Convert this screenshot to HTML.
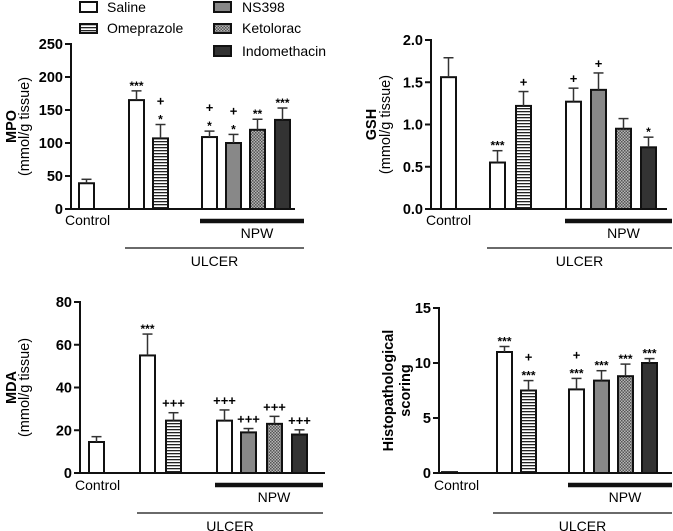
<!DOCTYPE html>
<html><head><meta charset="utf-8"><style>
html,body{margin:0;padding:0;background:#fff}
svg{display:block;font-family:"Liberation Sans",Arial,sans-serif}
</style></head><body>
<svg id="fig" width="673" height="531" viewBox="0 0 673 531" xmlns="http://www.w3.org/2000/svg">
<defs>
<pattern id="hatch" width="4" height="3" patternUnits="userSpaceOnUse"><rect width="4" height="3" fill="#fff"/><rect y="0" width="4" height="1.3" fill="#222"/></pattern>
<pattern id="dots" width="3" height="3" patternUnits="userSpaceOnUse"><rect width="3" height="3" fill="#b5b5b5"/><rect width="1.5" height="1.5" fill="#555"/><rect x="1.5" y="1.5" width="1.5" height="1.5" fill="#555"/></pattern>
</defs>
<g id="legend">
<g><rect x="80" y="2" width="17" height="10" fill="#fff" stroke="#111" stroke-width="2"/><text x="107" y="12" font-size="14">Saline</text></g>
<g><rect x="80" y="24" width="17" height="9" fill="url(#hatch)" stroke="#111" stroke-width="2"/><text x="107" y="33" font-size="14">Omeprazole</text></g>
<g><rect x="214" y="2" width="17" height="10" fill="#888" stroke="#111" stroke-width="2"/><text x="242" y="12" font-size="14">NS398</text></g>
<g><rect x="214" y="24" width="17" height="9" fill="url(#dots)" stroke="#111" stroke-width="2"/><text x="242" y="33" font-size="14">Ketolorac</text></g>
<g><rect x="214" y="46" width="17" height="10" fill="#333" stroke="#111" stroke-width="2"/><text x="242" y="56" font-size="14">Indomethacin</text></g>
</g>
</svg>
<script>
// Data (per panel)
const groups = ['Control','Saline','Omeprazole','NPW','NS398','Ketolorac','Indomethacin'];
const mpoValues = [39,165,107,109,100,120,135];
const mpoErrors = [6,14,21,9,13,16,18];
const mpoMarks = [[],['***'],['+','*'],['+','*'],['+','*'],['**'],['***']];
const mpoTicks = ['0','50','100','150','200','250'];
const gshValues = [1.56,0.55,1.22,1.27,1.41,0.95,0.73];
const gshErrors = [0.23,0.14,0.17,0.16,0.20,0.12,0.12];
const gshMarks = [[],['***'],['+'],['+'],['+'],[],['*']];
const gshTicks = ['0.0','0.5','1.0','1.5','2.0'];
const mdaValues = [14.5,55,24.5,24.5,19,23,18];
const mdaErrors = [2.5,10,3.7,5,1.8,3.5,2.2];
const mdaMarks = [[],['***'],['+++'],['+++'],['+++'],['+++'],['+++']];
const mdaTicks = ['0','20','40','60','80'];
const histoValues = [0.08,11,7.5,7.6,8.4,8.8,10];
const histoErrors = [0,0.5,0.9,1.0,0.9,1.1,0.4];
const histoMarks = [[],['***'],['+','***'],['+','***'],['***'],['***'],['***']];
const histoTicks = ['0','5','10','15'];

const fills = ['#fff','#fff','url(#hatch)','#fff','#888','url(#dots)','#333'];
const NS='http://www.w3.org/2000/svg';
const svg=document.getElementById('fig');
function mk(tag,attrs,parent){const e=document.createElementNS(NS,tag);for(const k in attrs)e.setAttribute(k,attrs[k]);(parent||svg).appendChild(e);return e;}

const panels=[
 {id:'mpo',vals:mpoValues,errs:mpoErrors,marks:mpoMarks,ticks:mpoTicks,max:250,ax:71,y0:209,y1:44,xend:295,
  bx:[79,129,153,202,226,250,275],t1:'MPO',t2:'(mmol/g tissue)',t2bold:false,tx1:12,tx2:25,
  npw:[200,304,221],ulc:[125,304,248],ctrl:[65,220]},
 {id:'gsh',vals:gshValues,errs:gshErrors,marks:gshMarks,ticks:gshTicks,max:2,ax:431,y0:209,y1:40,xend:667,
  bx:[441,490,516,566,591,616,641],t1:'GSH',t2:'(mmol/g tissue)',t2bold:false,tx1:372,tx2:386,
  npw:[565,672,221],ulc:[487,672,248],ctrl:[426,220]},
 {id:'mda',vals:mdaValues,errs:mdaErrors,marks:mdaMarks,ticks:mdaTicks,max:80,ax:80,y0:473,y1:302,xend:325,
  bx:[89,140,166,217,241,267,292],t1:'MDA',t2:'(mmol/g tissue)',t2bold:false,tx1:12,tx2:25,
  npw:[215,323,485],ulc:[137,323,513],ctrl:[75,485]},
 {id:'histo',vals:histoValues,errs:histoErrors,marks:histoMarks,ticks:histoTicks,max:15,ax:439,y0:473,y1:308,xend:672,
  bx:[442,497,521,569,594,618,642],t1:'Histopathological',t2:'scoring',t2bold:true,tx1:389,tx2:406,
  npw:[568,672,485],ulc:[493,672,513],ctrl:[434,485]}
];
const BW=15;
panels.forEach(p=>{
  const g=mk('g',{});
  
  
  const yS=v=>p.y0-(v/p.max)*(p.y0-p.y1);
  const ya=mk('line',{x1:p.ax,y1:p.y1-1,x2:p.ax,y2:p.y0+1,stroke:'#111','stroke-width':2},g);
  
  
  const xa=mk('line',{x1:p.ax-1,y1:p.y0,x2:p.xend,y2:p.y0,stroke:'#111','stroke-width':2},g);
  
  
  p.ticks.forEach((t,i)=>{
    const v=i*p.max/(p.ticks.length-1);const y=yS(v);
    mk('line',{x1:p.ax-6,y1:y,x2:p.ax,y2:y,stroke:'#111','stroke-width':2},g);
    const tl=mk('text',{x:p.ax-8,y:y+5,'font-size':14.5,'font-weight':'bold','text-anchor':'end'},g);
    tl.textContent=t;
    
    
  });
  const cy=(p.y0+p.y1)/2;
  const t1=mk('text',{x:p.tx1,y:cy,'font-size':14.5,'font-weight':'bold','text-anchor':'middle','dominant-baseline':'central',transform:`rotate(-90 ${p.tx1} ${cy})`},g);
  t1.textContent=p.t1;
  
  
  const t2=mk('text',{x:p.tx2,y:cy,'font-size':14.5,'font-weight':p.t2bold?'bold':'normal','text-anchor':'middle','dominant-baseline':'central',transform:`rotate(-90 ${p.tx2} ${cy})`},g);
  t2.textContent=p.t2;
  
  
  p.vals.forEach((v,i)=>{
    const x=p.bx[i];const yt=yS(v);
    const r=mk('rect',{x:x,y:yt,width:BW,height:Math.max(p.y0-yt,0.5),fill:fills[i],stroke:'#111','stroke-width':2},g);
    
    
    const ye=yS(v+p.errs[i]);const cx=x+BW/2;
    if(p.errs[i]>0){
      mk('line',{x1:cx,y1:yt,x2:cx,y2:ye,stroke:'#333','stroke-width':1.5},g);
      mk('line',{x1:cx-5,y1:ye,x2:cx+5,y2:ye,stroke:'#333','stroke-width':1.5},g);
    }
    const m=p.marks[i];
    m.forEach((s,k)=>{
      const line=m.length-1-k;
      const star=s.indexOf('*')>=0;
      const yy=ye-5-line*14;
      const tx=mk('text',{x:cx,y:star?yy+4:yy,'font-size':star?12:13,'font-weight':'bold','text-anchor':'middle'},g);
      tx.textContent=s;
      
      
    });
  });
  const ct=mk('text',{x:p.ctrl[0],y:p.ctrl[1]+5,'font-size':14},g);
  ct.textContent='Control';
  
  
  const nb=mk('line',{x1:p.npw[0],y1:p.npw[2],x2:p.npw[1],y2:p.npw[2],stroke:'#111','stroke-width':4.5},g);
  
  
  const nt=mk('text',{x:(p.npw[0]+p.npw[1])/2+5,y:p.npw[2]+17,'font-size':14,'text-anchor':'middle'},g);
  nt.textContent='NPW';
  
  
  const ub=mk('line',{x1:p.ulc[0],y1:p.ulc[2],x2:p.ulc[1],y2:p.ulc[2],stroke:'#111','stroke-width':1.3},g);
  
  
  const ut=mk('text',{x:(p.ulc[0]+p.ulc[1])/2,y:p.ulc[2]+18,'font-size':14,'text-anchor':'middle'},g);
  ut.textContent='ULCER';
  
  
});
</script>
</body></html>
